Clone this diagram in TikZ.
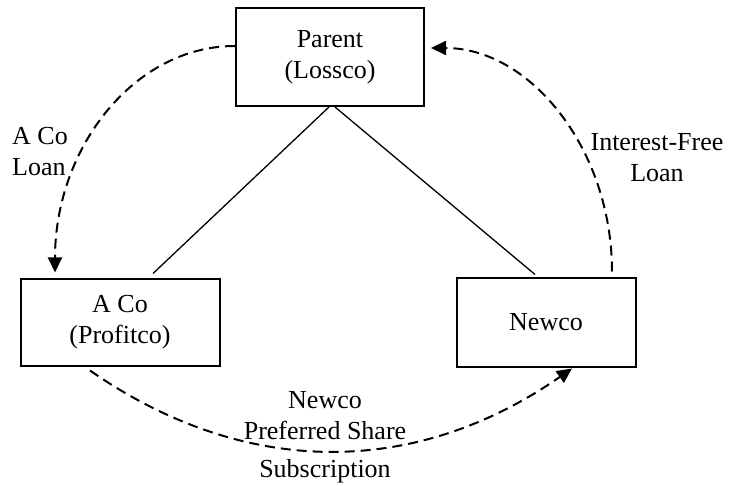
\documentclass[tikz,border=0pt]{standalone}
\usepackage{fontspec}
\setmainfont{Liberation Serif}
\usetikzlibrary{arrows.meta}

\begin{document}
\begin{tikzpicture}[x=1pt,y=-1pt,
  every node/.style={font=\fontsize{26}{31}\selectfont},
  entity/.style={draw,line width=2pt,align=center,inner sep=0pt},
  link/.style={line width=1.3pt},
  flow/.style={line width=2pt,dash pattern=on 10pt off 6pt,
    -{Triangle[length=15pt,width=14pt]}}]

  \useasboundingbox (0,0) rectangle (733,486);

  \node[entity,minimum width=188pt,minimum height=98pt] (parent) at (330,57) {Parent\\(Lossco)};
  \node[entity,minimum width=199pt,minimum height=87pt] (aco) at (120,322) {A Co\\(Profitco)};
  \node[entity,minimum width=179pt,minimum height=89pt] (newco) at (546,322) {Newco};

  \draw[link] ([xshift=-1pt]parent.south) -- ([xshift=33pt,yshift=4pt]aco.north);
  \draw[link] ([xshift=5pt]parent.south) -- ([xshift=-11pt,yshift=2pt]newco.north);

  \draw[flow] ([yshift=11pt]parent.west) .. controls (134,46) and (55,148) .. ([xshift=-65pt,yshift=5pt]aco.north);
  \draw[flow] ([xshift=66pt,yshift=5pt]newco.north) .. controls (612,149) and (530,48) .. ([xshift=6pt,yshift=9pt]parent.east);
  \draw[flow] ([xshift=-30pt,yshift=-4pt]aco.south) .. controls (246,479) and (416,477) .. ([xshift=26pt,yshift=-1pt]newco.south);

  \node[align=left,anchor=west,inner sep=0pt] (acoloan) at (12,152) {A Co\\Loan};
  \node[align=center,inner sep=0pt] (freeloan) at (657,158) {Interest-Free\\Loan};
  \node[align=center,inner sep=0pt] (shares) at (325,437) {Newco\\Preferred Share\\[7pt]Subscription};

\end{tikzpicture}
\end{document}
